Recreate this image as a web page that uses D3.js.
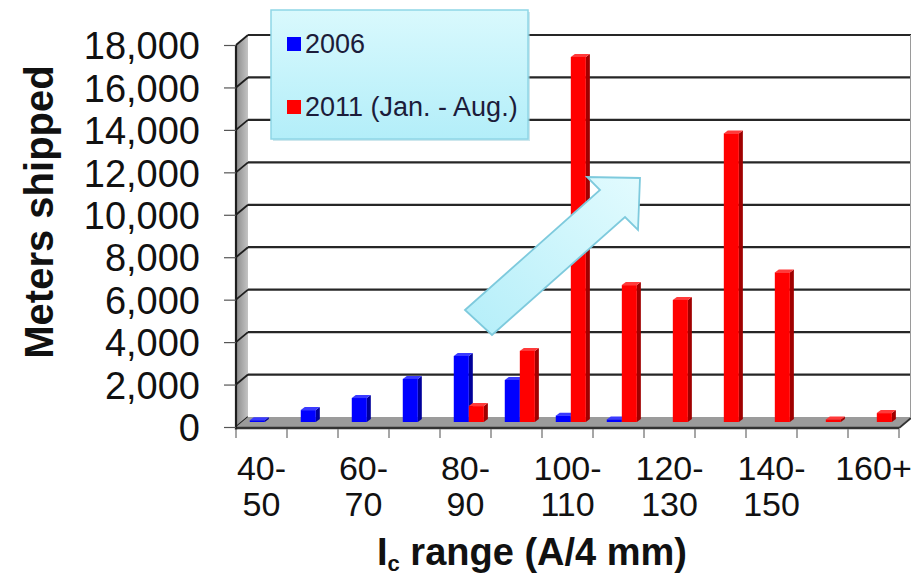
<!DOCTYPE html>
<html>
<head>
<meta charset="utf-8">
<script src="https://cdn.jsdelivr.net/npm/d3@7"></script>
<style>
  html, body { margin: 0; padding: 0; background: #fff; }
  svg { display: block; font-family: "Liberation Sans", Arial, sans-serif; }
</style>
</head>
<body>
<svg id="chart" width="911" height="578"></svg>
<script>
// Ic ranges (A/4 mm) and meters shipped per range
const categories = ["40-50", "50-60", "60-70", "70-80", "80-90", "90-100", "100-110",
                    "110-120", "120-130", "130-140", "140-150", "150-160", "160+"];
const tickLabels = [["40-", "50"], null, ["60-", "70"], null, ["80-", "90"], null,
                    ["100-", "110"], null, ["120-", "130"], null, ["140-", "150"], null, ["160+"]];
const seriesNames = ["2006", "2011 (Jan. - Aug.)"];
const values2006 = [80, 560, 1130, 2030, 3110, 1980, 300, 120, 0, 0, 0, 0, 0];
const values2011 = [0, 0, 0, 0, 750, 3350, 17200, 6450, 5750, 13600, 7050, 120, 420];
const yTicks = [0, 2000, 4000, 6000, 8000, 10000, 12000, 14000, 16000, 18000];

const seriesColors = [
  { front: "#0000ff", side: "#00009a", top: "#3a3aff" },
  { front: "#ff0000", side: "#a00000", top: "#ff3a3a" }
];

const svg = d3.select("#chart");

// 3D box geometry: front plane and depth shift of the back wall
const left = 236, right = 899, frontBase = 427, topVal = 45;
const depth = { dx: 12, dy: -10 };
const barBase = 422;

const x = d3.scaleBand().domain(categories).range([left, right]).padding(0);
const xs = d3.scaleBand().domain(seriesNames)
  .range([x.bandwidth() * 0.27, x.bandwidth() * 0.86]);
const yFront = d3.scaleLinear().domain([0, 18000]).range([frontBase, topVal]);
const yBack = d3.scaleLinear().domain([0, 18000]).range([frontBase + depth.dy, topVal + depth.dy]);
const yBar = d3.scaleLinear().domain([0, 18000]).range([barBase, barBase - (frontBase - topVal)]);

const defs = svg.append("defs");
const wallGrad = defs.append("linearGradient").attr("id", "wallGrad")
  .attr("x1", "0").attr("x2", "1").attr("y1", "0").attr("y2", "0");
wallGrad.append("stop").attr("offset", "0").attr("stop-color", "#8c8c8c");
wallGrad.append("stop").attr("offset", "1").attr("stop-color", "#c4c4c4");
const legGrad = defs.append("linearGradient").attr("id", "legGrad")
  .attr("x1", "0").attr("x2", "0").attr("y1", "0").attr("y2", "1");
legGrad.append("stop").attr("offset", "0").attr("stop-color", "#d9f9fd");
legGrad.append("stop").attr("offset", "1").attr("stop-color", "#b3eef9");
const arrowGrad = defs.append("linearGradient").attr("id", "arrowGrad")
  .attr("x1", "0").attr("x2", "1").attr("y1", "1").attr("y2", "0");
arrowGrad.append("stop").attr("offset", "0").attr("stop-color", "#b4eef9");
arrowGrad.append("stop").attr("offset", "1").attr("stop-color", "#e2fbfe");

const pt = (a) => a.map(p => p.join(",")).join(" ");

// Back wall with gridlines
svg.append("rect")
  .attr("x", left + depth.dx).attr("y", yBack(18000))
  .attr("width", right - left).attr("height", yBack(0) - yBack(18000))
  .attr("fill", "#fff");

svg.append("g").selectAll("line").data(yTicks.filter(d => d > 0)).join("line")
  .attr("x1", left + depth.dx).attr("x2", right + depth.dx)
  .attr("y1", d => yBack(d)).attr("y2", d => yBack(d))
  .attr("stroke", "#262626").attr("stroke-width", 2.2);

// Right edge of the back wall
svg.append("line")
  .attr("x1", right + depth.dx).attr("x2", right + depth.dx)
  .attr("y1", yBack(18000)).attr("y2", yBack(0))
  .attr("stroke", "#9a9a9a").attr("stroke-width", 2);

// Left side wall
svg.append("polygon")
  .attr("points", pt([[left, yFront(0)], [left, yFront(18000)],
                      [left + depth.dx, yBack(18000)], [left + depth.dx, yBack(0)]]))
  .attr("fill", "url(#wallGrad)");

svg.append("g").selectAll("line").data(yTicks).join("line")
  .attr("x1", left).attr("x2", left + depth.dx)
  .attr("y1", d => yFront(d)).attr("y2", d => yBack(d))
  .attr("stroke", "#1e1e1e").attr("stroke-width", 1.8);

// Floor
svg.append("polygon")
  .attr("points", pt([[left, yFront(0)], [right, yFront(0)],
                      [right + depth.dx, yBack(0)], [left + depth.dx, yBack(0)]]))
  .attr("fill", "#9b9b9b");
svg.append("line")
  .attr("x1", left).attr("x2", right)
  .attr("y1", yFront(0) + 1).attr("y2", yFront(0) + 1)
  .attr("stroke", "#333").attr("stroke-width", 2.5);
svg.append("line")
  .attr("x1", right).attr("x2", right + depth.dx)
  .attr("y1", yFront(0) + 1).attr("y2", yBack(0) + 1)
  .attr("stroke", "#333").attr("stroke-width", 2);

// Front vertical axis line
svg.append("line")
  .attr("x1", left).attr("x2", left)
  .attr("y1", yFront(18000)).attr("y2", yFront(0) + 3)
  .attr("stroke", "#1e1e1e").attr("stroke-width", 2.2);

// Y axis ticks and labels
const yAxis = d3.axisLeft(yFront).tickValues(yTicks).tickSize(12).tickPadding(24)
  .tickFormat(d3.format(","));
const yAxisG = svg.append("g").attr("transform", `translate(${left},0)`).call(yAxis);
yAxisG.select(".domain").remove();
yAxisG.selectAll(".tick line").attr("stroke", "#555").attr("stroke-width", 1.2);
yAxisG.selectAll(".tick text")
  .attr("font-size", 38).attr("fill", "#111").attr("dy", "0.36em");

// X axis tick marks at category boundaries
const bounds = categories.map(c => x(c)).concat([right]);
svg.append("g").selectAll("line").data(bounds).join("line")
  .attr("x1", d => d).attr("x2", d => d)
  .attr("y1", yFront(0) + 2).attr("y2", yFront(0) + 11)
  .attr("stroke", "#888").attr("stroke-width", 1.5);

// X tick labels (every other range)
const xl = svg.append("g").attr("font-size", 34).attr("fill", "#111").attr("text-anchor", "middle");
categories.forEach((c, i) => {
  const lines = tickLabels[i];
  if (!lines) return;
  lines.forEach((t, j) => {
    xl.append("text")
      .attr("x", x(c) + x.bandwidth() / 2)
      .attr("y", 480 + j * 36)
      .text(t);
  });
});

// Bars (3D columns)
const bd = { dx: 4, dy: -3 };
const series = [values2006, values2011];
const barG = svg.append("g");
categories.forEach((c, i) => {
  series.forEach((vals, s) => {
    const v = vals[i];
    if (!v) return;
    const x0 = x(c) + xs(seriesNames[s]);
    const w = xs.bandwidth();
    const yt = yBar(v), yb = yBar(0);
    const col = seriesColors[s];
    const g = barG.append("g");
    g.append("polygon")
      .attr("points", pt([[x0 + w, yb], [x0 + w, yt], [x0 + w + bd.dx, yt + bd.dy], [x0 + w + bd.dx, yb + bd.dy]]))
      .attr("fill", col.side);
    g.append("polygon")
      .attr("points", pt([[x0, yt], [x0 + w, yt], [x0 + w + bd.dx, yt + bd.dy], [x0 + bd.dx, yt + bd.dy]]))
      .attr("fill", col.top);
    g.append("rect")
      .attr("x", x0).attr("y", yt).attr("width", w).attr("height", yb - yt)
      .attr("fill", col.front);
  });
});

// Axis titles
svg.append("text")
  .attr("transform", "translate(53,212) rotate(-90)")
  .attr("text-anchor", "middle").attr("font-size", 40).attr("font-weight", "bold")
  .attr("fill", "#111")
  .text("Meters shipped");

const xt = svg.append("text")
  .attr("x", 532).attr("y", 565)
  .attr("text-anchor", "middle").attr("font-size", 38).attr("font-weight", "bold")
  .attr("fill", "#111");
xt.append("tspan").text("I");
xt.append("tspan").attr("font-size", 22).attr("dy", 6).text("c");
xt.append("tspan").attr("dy", -6).text(" range (A/4 mm)");

// Trend arrow
svg.append("polygon")
  .attr("points", pt([[465, 310], [600, 190], [587, 177], [640, 178], [638, 230], [625, 217], [492, 335]]))
  .attr("fill", "url(#arrowGrad)")
  .attr("stroke", "#7ecadd").attr("stroke-width", 1.8);

// Legend
const lg = svg.append("g");
lg.append("rect")
  .attr("x", 273).attr("y", 12).attr("width", 257).attr("height", 129)
  .attr("fill", "#9ccfdc").attr("opacity", 0.5);
lg.append("rect")
  .attr("x", 271).attr("y", 10).attr("width", 257).attr("height", 129)
  .attr("fill", "url(#legGrad)").attr("stroke", "#8fd6e6").attr("stroke-width", 1.5);
seriesNames.forEach((name, i) => {
  const yy = 44 + i * 63;
  lg.append("rect")
    .attr("x", 287).attr("y", yy - 7).attr("width", 14).attr("height", 14)
    .attr("fill", seriesColors[i].front);
  lg.append("text")
    .attr("x", 305).attr("y", yy + 9)
    .attr("font-size", 27).attr("fill", "#1c1c3a")
    .text(name);
});
</script>
</body>
</html>
